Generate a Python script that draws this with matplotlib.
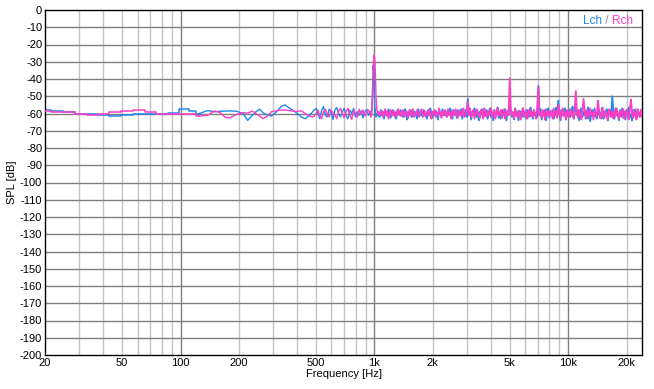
import numpy as np
import matplotlib
matplotlib.use("Agg")
import matplotlib.pyplot as plt
from matplotlib.ticker import FixedLocator, NullFormatter
from matplotlib.offsetbox import AnchoredOffsetbox, TextArea, HPacker

plt.rcParams['font.family'] = ['Liberation Sans', 'DejaVu Sans']

# ---------------- data ----------------
f_low = [20, 23, 26.5, 30.5, 35, 40, 46, 53, 61, 70, 80, 92, 105, 115, 125, 138,
         150, 160, 170, 180, 195, 210, 222, 235, 245, 256, 266, 280, 294, 310,
         330, 345, 366, 390, 420, 440, 463, 485]
L_low = [-58.0, -58.3, -59.0, -60.5, -60.5, -61.0, -61.6, -61.0, -60.3, -60.0,
         -60.0, -59.5, -57.5, -58.5, -60.0, -58.3, -59.0, -58.7, -58.6, -58.5,
         -58.7, -60.0, -64.0, -61.0, -59.0, -57.5, -59.5, -61.0, -61.4, -59.5,
         -56.0, -55.0, -57.0, -59.0, -62.0, -63.0, -61.0, -58.5]
R_low = [-58.5, -59.0, -59.4, -60.3, -61.0, -60.4, -59.2, -58.6, -58.0, -59.0,
         -60.0, -60.0, -60.3, -60.5, -61.5, -61.0, -58.5, -59.5, -62.2, -62.5,
         -60.5, -59.5, -59.8, -58.6, -60.0, -61.5, -63.0, -61.5, -59.0, -58.5,
         -58.0, -58.0, -58.3, -58.8, -58.5, -60.0, -61.5, -62.0]

# 500 Hz .. 955 Hz (log-spaced bins)
L_mid = [-57, -60, -63, -58, -56, -61, -62, -57.5, -59, -63.5, -58, -56.5, -60, -62, -59,
         -57, -61.5, -63, -58, -60, -57, -62, -59, -61, -58.5, -62.5, -59, -57.5, -61, -59]
R_mid = [-60, -58, -61.5, -63, -59, -57.5, -60.5, -62, -58, -59.5, -61, -63, -58.5, -57, -60,
         -62.5, -59, -57, -61, -63.5, -58, -60, -62, -57.5, -60.5, -58, -61.5, -59, -58, -60.5]

# 1 kHz test tone region
f_peak = [960, 970, 978, 985, 991, 997, 1004, 1012, 1020, 1030, 1040]
L_peak = [-61, -59, -50, -32, -35, -45, -55, -59, -62, -60, -61]
R_peak = [-62, -58, -46, -38, -30, -26, -28, -36.5, -51, -58, -60]

# 1050 Hz .. 24 kHz (log-spaced bins)
L_hi = [
    -60, -62, -58, -61, -59, -63, -58.5, -60, -61.5, -57.5, -60, -62.5, -59, -58, -61, -60.5, -63, -58, -59.5, -61,
    -58, -60, -62, -59, -57.5, -61, -63.5, -59, -60, -58, -62, -60.5, -58.5, -61.5, -59, -63, -57.5, -60, -61, -59,
    -62, -58, -60, -59.5, -63, -58, -61, -57, -60, -62.5, -59, -61, -58.5, -60, -63.5, -58, -59.5, -61.5, -57.5, -60,
    -61, -58.5, -62, -59, -60.5, -57, -61.5, -63, -58, -60, -59, -62.5, -58, -61, -60, -57.5, -63, -59, -60.5, -58,
    -62, -51.5, -60, -58, -63.5, -59, -61, -57, -60.5, -62, -58.5, -64, -59, -60, -57.5, -62.5, -59, -61, -58, -63,
    -60, -57, -62, -59.5, -64, -58, -61, -60, -56.5, -62.5, -59, -63, -58, -60.5, -61, -57.5, -64, -59, -60, -56,
    -58, -62, -60, -63.5, -57, -61, -59, -64, -58.5, -60, -62, -57, -61.5, -59, -63, -58, -60.5, -62, -56.5, -60,
    -63, -58, -61, -59.5, -62, -44, -60, -57.5, -63.5, -59, -61, -58, -64, -60, -57, -62.5, -59, -61, -58, -63,
    -60, -56.5, -62, -52.5, -59, -64, -58, -61, -60, -57, -63.5, -59, -61.5, -58, -62, -60, -56, -63, -59, -56,
    -61, -58, -64, -59.5, -57, -62, -60, -58, -63, -61, -56.5, -59, -64.5, -60, -58, -62, -57, -61, -63, -59,
    -58, -62.5, -60, -56.5, -63, -59, -61, -57.5, -64, -60, -58, -62, -50, -59, -63, -57, -61, -60, -64, -58,
    -61, -57, -62.5, -59, -63.5, -58, -60, -56.5, -62, -60.5, -64, -58, -61, -57.5, -63, -59, -60, -62, -58, -61,
]
R_hi = [
    -59, -61, -60, -58.5, -62, -60, -57.5, -61, -59, -63, -60, -58, -61.5, -60, -58.5, -62, -59, -61, -57.5, -60,
    -61.5, -59, -58, -62, -60, -58.5, -60, -62.5, -58, -61, -59.5, -57.5, -62, -60, -61, -58, -60.5, -62, -59, -57.5,
    -60, -61.5, -58.5, -62, -59, -60.5, -57.5, -61, -63, -59, -60, -58, -62, -59.5, -61, -57, -60, -62.5, -59, -61,
    -58, -60, -62, -57.5, -61, -59.5, -63, -58, -60.5, -61, -57.5, -60, -62.5, -59, -58, -61.5, -60, -57, -62, -60,
    -59, -53, -61, -57, -62, -60.5, -58, -63, -59.5, -57.5, -61, -60, -62.5, -58, -59, -63, -57, -60.5, -62, -58.5,
    -61, -59, -57, -62.5, -60, -58, -63, -59.5, -57, -61.5, -60, -58, -62.5, -59, -57.5, -63, -60, -58.5, -61, -39.5,
    -58, -61, -59, -63, -57.5, -60, -62, -58.5, -61, -63.5, -59, -57, -62, -60.5, -58, -63, -60, -57.5, -61.5, -59,
    -62, -58, -60, -63, -57, -44.5, -61, -59, -62.5, -58, -60, -63.5, -57.5, -61, -59, -62, -58.5, -60, -63, -57,
    -61, -59, -62.5, -55, -58, -63, -60, -57, -61.5, -59, -63.5, -58, -60, -62, -57.5, -61, -59, -63, -58, -47,
    -60, -62.5, -58, -61, -63.5, -57.5, -51.5, -59, -62, -58, -63, -60.5, -57, -61, -59.5, -63.5, -58, -60, -62, -52.5,
    -58, -61.5, -63, -57, -60, -62.5, -58.5, -61, -63.5, -57.5, -60, -62, -58, -63, -59, -61.5, -57, -60, -63, -58.5,
    -62, -59, -57.5, -63, -60, -58, -61.5, -63.5, -57, -52, -60, -62.5, -58, -61, -63.5, -57.5, -60, -62, -58, -61.5,
]

x_ticks = [20, 50, 100, 200, 500, 1000, 2000, 5000, 10000, 20000]
x_tick_labels = ["20", "50", "100", "200", "500", "1k", "2k", "5k", "10k", "20k"]
y_ticks = list(range(0, -201, -10))

# frequency bins
f_mid = np.geomspace(500, 955, len(L_mid))
f_hi = np.geomspace(1050, 24000, len(L_hi))
freq = np.concatenate([f_low, f_mid, f_peak, f_hi])
lch = np.concatenate([L_low, L_mid, L_peak, L_hi])
rch = np.concatenate([R_low, R_mid, R_peak, R_hi])

# ---------------- plot ----------------
BLUE = "#1E88F0"
PINK = "#FF3CC4"

fig = plt.figure(figsize=(6.54, 3.89), dpi=100)
ax = fig.add_axes([45 / 654, 34 / 389, 597 / 654, 345 / 389])

ax.set_xscale("log")
ax.set_xlim(20, 24000)
ax.set_ylim(-200, 0)

# grid
minor = [m * 10 ** e for e in range(1, 5) for m in range(2, 10) if 20 < m * 10 ** e < 24000]
for v in minor:
    ax.axvline(v, color="#c4c4c4", lw=1.0, zorder=0)
for v in [100, 1000, 10000]:
    ax.axvline(v, color="#7f7f7f", lw=1.0, zorder=0.5)
for v in y_ticks[1:-1]:
    ax.axhline(v, color="#7f7f7f", lw=1.0, zorder=0.5)

# low-frequency bins drawn as steps (coarse FFT bins), the rest as a line
n_step = 15  # bins below ~130 Hz
n_hi = len(f_low) + len(f_mid) + len(f_peak)
for data, col, z in [(lch, BLUE, 2), (rch, PINK, 3)]:
    ax.plot(freq[:n_step], data[:n_step], color=col, lw=1.1, zorder=z, drawstyle="steps-mid")
    ax.plot(freq[n_step - 1:n_hi], data[n_step - 1:n_hi], color=col, lw=1.0, zorder=z)
    ax.plot(freq[n_hi - 1:], data[n_hi - 1:], color=col, lw=1.3, zorder=z)

ax.xaxis.set_major_locator(FixedLocator(x_ticks))
ax.set_xticklabels(x_tick_labels)
ax.xaxis.set_minor_formatter(NullFormatter())
ax.xaxis.set_minor_locator(FixedLocator([]))
ax.set_yticks(y_ticks)
ax.set_yticklabels([str(v) for v in y_ticks])
ax.tick_params(axis="both", length=0, labelsize=8, pad=2)

for s in ax.spines.values():
    s.set_color("black")
    s.set_linewidth(1.0)

ax.set_xlabel("Frequency [Hz]", fontsize=8, labelpad=1)
ax.set_ylabel("SPL [dB]", fontsize=8, labelpad=2)

# legend as coloured text
parts = [TextArea("Lch", textprops=dict(color=BLUE, fontsize=8.5)),
         TextArea(" / ", textprops=dict(color="#909090", fontsize=8.5)),
         TextArea("Rch", textprops=dict(color=PINK, fontsize=8.5))]
box = HPacker(children=parts, align="center", pad=0, sep=0)
anch = AnchoredOffsetbox(loc="upper right", child=box, pad=0.0, frameon=False,
                         bbox_to_anchor=(0.985, 0.985), bbox_transform=ax.transAxes, borderpad=0)
ax.add_artist(anch)

fig.savefig("out.png", dpi=100, facecolor="white")
